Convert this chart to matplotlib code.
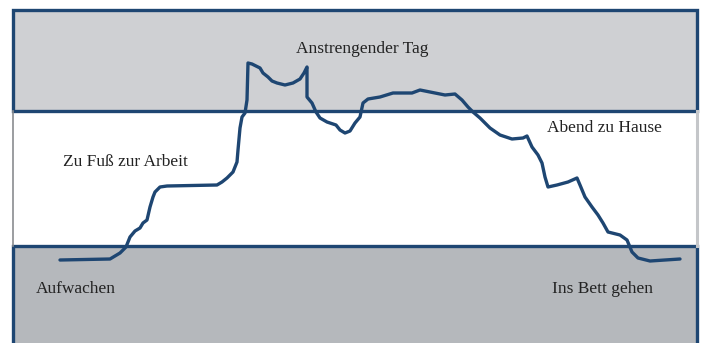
import matplotlib.pyplot as plt
from matplotlib.patches import Rectangle

# Tagesverlauf (x: Zeit, y: Energie)
zeit = [60, 110, 120, 126, 130, 135, 140, 143, 147, 150, 153, 155, 160, 167, 217, 222, 227,
        233, 237, 238, 240, 242, 245, 247, 248, 252, 260, 263, 268, 272, 277, 285, 293, 300,
        304, 307, 307, 312, 316, 320, 327, 336, 340, 345, 350, 355, 360, 363, 368, 380, 393,
        412, 420, 430, 440, 445, 455, 462, 468, 473, 480, 490, 500, 512, 523, 527, 532, 538,
        542, 545, 548, 557, 568, 577, 580, 585, 592, 598, 603, 608, 620, 627, 632, 638, 650, 680]
energie = [83, 84, 90, 96, 106, 112, 115, 120, 123, 136, 146, 151, 156, 157, 158, 161, 165,
           171, 181, 193, 215, 226, 230, 243, 280, 279, 275, 270, 266, 262, 260, 258, 260, 264,
           270, 276, 246, 240, 231, 225, 221, 218, 213, 210, 212, 220, 226, 240, 244, 246, 250,
           250, 253, 251, 249, 248, 249, 243, 236, 231, 225, 215, 208, 204, 205, 207, 196, 188,
           180, 166, 156, 158, 161, 165, 158, 146, 136, 128, 120, 111, 108, 103, 91, 85, 82, 84]

# Zonen: (unten, oben, Farbe)
zonen = [(-20, 97, '#b5b8bc'), (97, 232, '#ffffff'), (232, 333, '#cfd0d3')]

labels = ['Anstrengender Tag', 'Zu Fuß zur Arbeit', 'Abend zu Hause', 'Aufwachen', 'Ins Bett gehen']
label_x = [362, 125, 604, 76, 603]
label_y = [294, 181, 215, 54, 54]

navy = '#1e4672'

fig = plt.figure(figsize=(7.03, 3.43), dpi=100)
ax = fig.add_axes([0, 0, 1, 1])
ax.set_xlim(0, 703)
ax.set_ylim(0, 343)
ax.axis('off')

x0, x1 = 13, 697
# white band sides: thin grey
lo, hi = zonen[1][0], zonen[1][1]
ax.plot([x0, x0], [lo, hi], color='#8a8c90', lw=1.2)
ax.plot([x1, x1], [lo, hi], color='#c4c6c9', lw=2.2)
for lo, hi, col in zonen:
    if col == '#ffffff':
        continue
    ax.add_patch(Rectangle((x0, lo), x1 - x0, hi - lo, facecolor=col,
                           edgecolor=navy, lw=2.4, zorder=1))

ax.plot(zeit, energie, color=navy, lw=2.4, solid_joinstyle='round',
        solid_capstyle='round', zorder=3)

for t, x, y in zip(labels, label_x, label_y):
    ax.text(x, y, t, ha='center', va='center', family='Liberation Serif',
            fontsize=12.5, color='#222222', zorder=4)

fig.savefig('out.png', dpi=100)
